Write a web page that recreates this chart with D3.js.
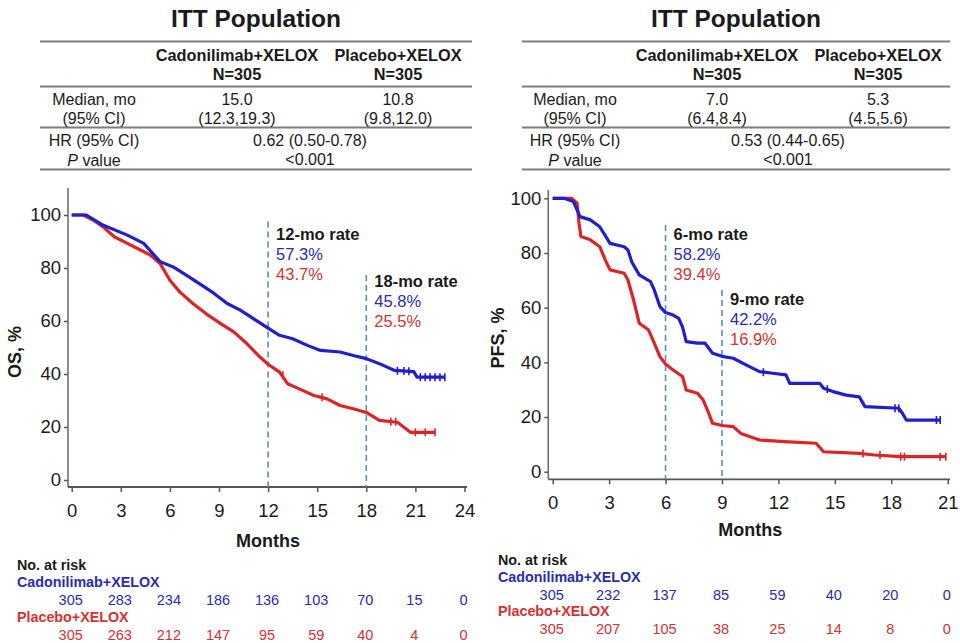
<!DOCTYPE html>
<html>
<head>
<meta charset="utf-8">
<script src="https://cdn.jsdelivr.net/npm/d3@7"></script>
<style>
  html, body { margin: 0; padding: 0; background: #ffffff; }
  svg { display: block; font-family: "Liberation Sans", Arial, sans-serif; }
</style>
</head>
<body>
<svg id="chart" width="960" height="643"></svg>
<script>
// ---------------- DATA ----------------
const armNames = ["Cadonilimab+XELOX", "Placebo+XELOX"];
const armN = ["N=305", "N=305"];
const tableTitle = "ITT Population";

const osMedian = ["15.0", "10.8"];
const osMedianCI = ["(12.3,19.3)", "(9.8,12.0)"];
const osHR = "0.62 (0.50-0.78)";
const osP = "<0.001";

const pfsMedian = ["7.0", "5.3"];
const pfsMedianCI = ["(6.4,8.4)", "(4.5,5.6)"];
const pfsHR = "0.53 (0.44-0.65)";
const pfsP = "<0.001";

const yTicks = [0, 20, 40, 60, 80, 100];
const osXTicks = [0, 3, 6, 9, 12, 15, 18, 21, 24];
const pfsXTicks = [0, 3, 6, 9, 12, 15, 18, 21];

// OS curves [month, %]
const osCadoni = [[0,100],[0.9,100],[1.9,96.2],[3.4,92.4],[4.4,89.3],[5.4,82.4],[6.2,80.4],[7.0,77.3],[7.8,74.1],[8.7,70.4],[9.5,66.6],[10.3,64.1],[11.1,60.9],[12.0,57.3],[12.7,54.6],[13.5,53.3],[14.4,50.8],[15.2,48.9],[16.4,48.3],[17.2,47.0],[18.0,45.8],[18.8,43.9],[19.7,41.4],[20.9,40.9],[21.1,38.8],[22.8,38.8]];
const osPlacebo = [[0,100],[0.7,100],[1.3,98.1],[1.9,95.6],[2.6,91.8],[3.4,89.3],[4.2,86.8],[4.8,84.9],[5.4,81.7],[6.0,75.4],[6.6,71.0],[7.4,66.6],[8.2,62.8],[9.1,59.0],[9.9,55.9],[10.7,51.5],[11.5,46.4],[12.0,43.7],[12.7,40.7],[13.2,36.3],[13.9,34.4],[14.8,31.9],[15.6,30.6],[16.4,28.1],[17.2,26.9],[18.0,25.5],[18.8,22.5],[19.9,21.8],[20.3,19.9],[20.7,18.0],[22.2,18.0]];
const osCadoniCensor = [[19.9,41.2],[20.3,41.1],[20.6,41.0],[21.3,38.8],[21.6,38.8],[21.9,38.8],[22.2,38.8],[22.5,38.8],[22.8,38.8]];
const osPlaceboCensor = [[12.9,39.5],[15.3,31.2],[19.5,22.0],[19.8,22.0],[21.0,18.0],[21.6,18.0],[22.2,18.0]];

// PFS curves [month, %]
const pfsCadoni = [[0,100],[0.6,100],[1.1,98.8],[1.3,95.7],[1.45,93.3],[2.0,92.1],[2.5,89.6],[3.05,83.5],[3.8,82.3],[4.0,81.1],[4.2,76.8],[4.6,72.0],[5.2,69.5],[5.4,66.5],[5.7,60.4],[6.0,58.2],[6.4,57.3],[6.7,56.1],[6.9,53.0],[7.1,47.6],[7.7,47.0],[8.1,47.0],[8.5,43.3],[9.0,42.2],[9.6,41.5],[10.3,39.0],[11.0,36.6],[11.7,36.0],[12.4,35.4],[12.6,32.3],[14.2,32.3],[14.4,30.5],[14.9,29.3],[15.6,28.0],[16.3,27.4],[16.6,23.8],[18.4,23.2],[18.6,21.3],[18.8,18.9],[20.6,18.9]];
const pfsPlacebo = [[0,100],[1.0,100],[1.3,98.2],[1.4,90.9],[1.5,86.0],[2.0,84.8],[2.5,82.3],[2.8,77.4],[3.05,73.8],[3.8,72.6],[4.0,70.1],[4.3,62.8],[4.6,54.3],[5.1,51.8],[5.4,47.0],[5.7,42.1],[6.0,39.4],[6.4,37.2],[6.9,34.8],[7.1,29.9],[7.7,28.7],[8.0,26.2],[8.3,21.3],[8.5,17.7],[9.0,16.9],[9.6,16.5],[10.0,14.0],[10.5,12.8],[11.0,11.6],[12.3,11.0],[14.0,10.4],[14.4,7.3],[16.3,6.7],[17.1,6.1],[18.5,5.5],[20.9,5.5]];
const pfsCadoniCensor = [[11.2,36.4],[14.6,30.2],[18.2,23.2],[18.4,23.2],[20.4,18.9],[20.6,18.9]];
const pfsPlaceboCensor = [[16.5,6.7],[17.4,6.1],[18.5,5.5],[18.7,5.5],[20.6,5.5],[20.9,5.5]];

// landmark rates
const osLandmarks = [
  {month: 12, label: "12-mo rate", cad: "57.3%", pla: "43.7%"},
  {month: 18, label: "18-mo rate", cad: "45.8%", pla: "25.5%"}
];
const pfsLandmarks = [
  {month: 6, label: "6-mo rate", cad: "58.2%", pla: "39.4%"},
  {month: 9, label: "9-mo rate", cad: "42.2%", pla: "16.9%"}
];

// number at risk
const osRiskCadoni = [305, 283, 234, 186, 136, 103, 70, 15, 0];
const osRiskPlacebo = [305, 263, 212, 147, 95, 59, 40, 4, 0];
const pfsRiskCadoni = [305, 232, 137, 85, 59, 40, 20, 0];
const pfsRiskPlacebo = [305, 207, 105, 38, 25, 14, 8, 0];

// ---------------- STYLE ----------------
const BLUE = "#1f1fcf";
const RED = "#e02222";
const BLUE_TXT = "#2a2ab4";
const RED_TXT = "#d83030";
const DASH = "#5d8db3";
const INK = "#1a1a1a";
const RULE = "#7c7c7c";

const svg = d3.select("#chart");

// ---------------- TABLES ----------------
function drawTable(cfg) {
  const g = svg.append("g");
  g.append("text").attr("x", (cfg.x0 + cfg.x1) / 2).attr("y", 18)
    .attr("text-anchor", "middle").attr("dominant-baseline", "central")
    .attr("font-size", 24.5).attr("font-weight", "bold").attr("fill", INK).text(tableTitle);
  [41.5, 86.5, 127.5, 169.5].forEach(y => {
    g.append("line").attr("x1", cfg.x0).attr("x2", cfg.x1).attr("y1", y).attr("y2", y)
      .attr("stroke", RULE).attr("stroke-width", 2);
  });
  const txt = (x, y, s, opts = {}) => g.append("text").attr("x", x).attr("y", y)
    .attr("text-anchor", "middle").attr("dominant-baseline", "central")
    .attr("font-size", opts.size || 16).attr("font-weight", opts.bold ? "bold" : "normal")
    .attr("fill", INK).text(s);
  armNames.forEach((n, i) => {
    txt(cfg.cols[i], 54.5, n, {bold: true, size: 16.3});
    txt(cfg.cols[i], 73.5, armN[i], {bold: true, size: 16.3});
    txt(cfg.cols[i], 99, cfg.median[i]);
    txt(cfg.cols[i], 118, cfg.ci[i]);
  });
  txt(cfg.labelX, 99, "Median, mo");
  txt(cfg.labelX, 118, "(95% CI)");
  txt(cfg.labelX, 140, "HR (95% CI)");
  const p = g.append("text").attr("x", cfg.labelX).attr("y", 159.5)
    .attr("text-anchor", "middle").attr("dominant-baseline", "central")
    .attr("font-size", 16).attr("fill", INK);
  p.append("tspan").attr("font-style", "italic").text("P");
  p.append("tspan").text(" value");
  txt(cfg.mergeX, 140, cfg.hr);
  txt(cfg.mergeX, 159.5, cfg.p);
}

drawTable({x0: 40, x1: 472, labelX: 94, cols: [237, 398], mergeX: 310,
  median: osMedian, ci: osMedianCI, hr: osHR, p: osP});
drawTable({x0: 522, x1: 950, labelX: 575, cols: [717, 878], mergeX: 788,
  median: pfsMedian, ci: pfsMedianCI, hr: pfsHR, p: pfsP});

// ---------------- KM PANELS ----------------
function drawPanel(cfg) {
  const g = svg.append("g");
  const x = d3.scaleLinear().domain(cfg.xDomain).range(cfg.xRange);
  const y = d3.scaleLinear().domain([0, 100]).range(cfg.yRange);

  // axes
  const xAxis = d3.axisBottom(x).tickValues(cfg.xTicks).tickSize(5).tickPadding(12).tickSizeOuter(0);
  const gx = g.append("g").attr("transform", `translate(0,${cfg.axisY})`).call(xAxis);
  const yAxis = d3.axisLeft(y).tickValues(yTicks).tickSize(4).tickPadding(3).tickSizeOuter(0);
  const gy = g.append("g").attr("transform", `translate(${cfg.axisX},0)`).call(yAxis);
  [gx, gy].forEach(a => {
    a.select(".domain").remove();
    a.selectAll(".tick line").attr("stroke", "#555").attr("stroke-width", 1.5);
    a.selectAll(".tick text").attr("font-size", 18.5).attr("fill", INK)
      .attr("font-family", "Liberation Sans, Arial, sans-serif");
  });
  g.append("line").attr("x1", cfg.axisX).attr("x2", cfg.axisX).attr("y1", cfg.axisTop).attr("y2", cfg.axisY)
    .attr("stroke", "#666").attr("stroke-width", 1.5);
  g.append("line").attr("x1", cfg.axisX).attr("x2", cfg.axisRight).attr("y1", cfg.axisY).attr("y2", cfg.axisY)
    .attr("stroke", "#555").attr("stroke-width", 1.8);

  g.append("text").attr("x", (cfg.xRange[0] + cfg.xRange[1]) / 2).attr("y", cfg.monthsY)
    .attr("text-anchor", "middle").attr("dominant-baseline", "central")
    .attr("font-size", 18).attr("font-weight", "bold").attr("fill", INK).text("Months");
  g.append("text").attr("transform", `translate(${cfg.yTitleX},${cfg.yTitleY}) rotate(-90)`)
    .attr("text-anchor", "middle").attr("dominant-baseline", "central")
    .attr("font-size", 18).attr("font-weight", "bold").attr("fill", INK).text(cfg.yTitle);

  // landmark dashed lines + labels
  cfg.landmarks.forEach((lm, i) => {
    const top = cfg.lmTops[i];
    g.append("line").attr("x1", x(lm.month)).attr("x2", x(lm.month))
      .attr("y1", top.line).attr("y2", cfg.axisY)
      .attr("stroke", DASH).attr("stroke-width", 1.6).attr("stroke-dasharray", "6,4");
    const lx = x(lm.month) + 8;
    g.append("text").attr("x", lx).attr("y", top.label).attr("dominant-baseline", "central")
      .attr("font-size", 16.5).attr("font-weight", "bold").attr("fill", INK).text(lm.label);
    g.append("text").attr("x", lx).attr("y", top.label + 20).attr("dominant-baseline", "central")
      .attr("font-size", 16.5).attr("fill", BLUE_TXT).text(lm.cad);
    g.append("text").attr("x", lx).attr("y", top.label + 40).attr("dominant-baseline", "central")
      .attr("font-size", 16.5).attr("fill", RED_TXT).text(lm.pla);
  });

  // curves
  const line = d3.line().x(d => x(d[0])).y(d => y(d[1])).curve(d3.curveLinear);
  [[cfg.placebo, RED, cfg.placeboCensor], [cfg.cadoni, BLUE, cfg.cadoniCensor]].forEach(([data, col, cens]) => {
    g.append("path").datum(data).attr("d", line).attr("fill", "none")
      .attr("stroke", col).attr("stroke-width", 3.2).attr("stroke-linejoin", "round");
    g.selectAll(null).data(cens).enter().append("line")
      .attr("x1", d => x(d[0])).attr("x2", d => x(d[0]))
      .attr("y1", d => y(d[1]) - 4).attr("y2", d => y(d[1]) + 4)
      .attr("stroke", col).attr("stroke-width", 1.6);
  });

  // number at risk
  const r = cfg.risk;
  g.append("text").attr("x", r.x).attr("y", r.y0).attr("dominant-baseline", "central")
    .attr("font-size", 14.3).attr("font-weight", "bold").attr("fill", INK).text("No. at risk");
  [[armNames[0], cfg.riskCadoni, BLUE_TXT, r.y1], [armNames[1], cfg.riskPlacebo, RED_TXT, r.y3]].forEach(([name, vals, col, yy]) => {
    g.append("text").attr("x", r.x).attr("y", yy).attr("dominant-baseline", "central")
      .attr("font-size", 14.3).attr("font-weight", "bold").attr("fill", col).text(name);
    g.selectAll(null).data(vals).enter().append("text")
      .attr("x", (d, i) => x(cfg.xTicks[i]) - 1).attr("y", yy + r.gap)
      .attr("text-anchor", "middle").attr("dominant-baseline", "central")
      .attr("font-size", 14.5).attr("fill", col).text(d => d);
  });
}

drawPanel({
  xDomain: [0, 24], xRange: [71.7, 464.5], yRange: [480, 215], xTicks: osXTicks,
  axisX: 68, axisY: 487, axisTop: 188, axisRight: 467,
  monthsY: 541, yTitle: "OS, %", yTitleX: 15, yTitleY: 352,
  landmarks: osLandmarks, lmTops: [{line: 221.5, label: 233.5}, {line: 275, label: 281}],
  cadoni: osCadoni, placebo: osPlacebo, cadoniCensor: osCadoniCensor, placeboCensor: osPlaceboCensor,
  riskCadoni: osRiskCadoni, riskPlacebo: osRiskPlacebo,
  risk: {x: 17, y0: 565, y1: 582, y3: 617, gap: 17.5}
});

drawPanel({
  xDomain: [0, 21], xRange: [552.7, 947.7], yRange: [471.7, 198.3], xTicks: pfsXTicks,
  axisX: 548.3, axisY: 479.3, axisTop: 190, axisRight: 950,
  monthsY: 529.5, yTitle: "PFS, %", yTitleX: 498, yTitleY: 338,
  landmarks: pfsLandmarks, lmTops: [{line: 225, label: 233.5}, {line: 290, label: 298.5}],
  cadoni: pfsCadoni, placebo: pfsPlacebo, cadoniCensor: pfsCadoniCensor, placeboCensor: pfsPlaceboCensor,
  riskCadoni: pfsRiskCadoni, riskPlacebo: pfsRiskPlacebo,
  risk: {x: 498, y0: 560, y1: 577, y3: 611, gap: 17.5}
});
</script>
</body>
</html>
